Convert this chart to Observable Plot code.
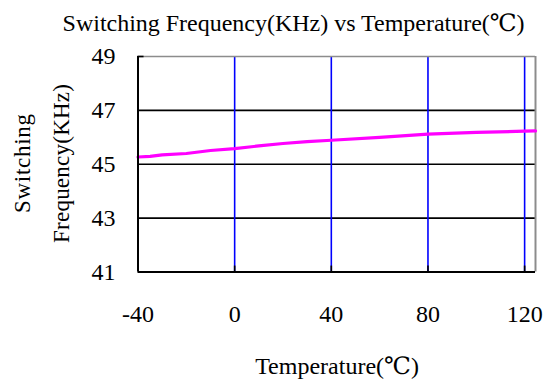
<!DOCTYPE html>
<html>
<head>
<meta charset="utf-8">
<script src="https://cdn.jsdelivr.net/npm/d3@7"></script>
<script src="https://cdn.jsdelivr.net/npm/@observablehq/plot@0.6"></script>
<style>
  html, body { margin: 0; padding: 0; background: #fff; }
</style>
</head>
<body>
<div id="chart"></div>
<script>
// ---- data ----
const temps = [-40, -35, -30, -20, -10, 0, 10, 20, 30, 40, 60, 80, 100, 120, 124.5];
const freqs = [45.27, 45.29, 45.35, 45.40, 45.51, 45.58, 45.68, 45.77, 45.84, 45.89, 46.00, 46.12, 46.18, 46.23, 46.24];
const xTicks = [-40, 0, 40, 80, 120];
const yTicks = [41, 43, 45, 47, 49];
const xGrid = [0, 40, 80, 120];
const yGrid = [43, 45, 47];
const titleText = "Switching Frequency(KHz) vs Temperature(℃)";
const xLabel = "Temperature(℃)";
const yLabelLines = ["Switching", "Frequency(KHz)"];

const xMin = -40, xMax = 124.5, yMin = 41, yMax = 49;
const data = temps.map((t, i) => ({t, f: freqs[i]}));
const serif = "'Liberation Serif', 'DejaVu Serif', serif";

const plot = Plot.plot({
  width: 552,
  height: 385,
  marginLeft: 137.5,
  marginRight: 17,
  marginTop: 56,
  marginBottom: 113.5,
  style: {fontFamily: serif, fontSize: "24px", color: "#000", background: "#fff", overflow: "visible"},
  x: {domain: [xMin, xMax]},
  y: {domain: [yMin, yMax]},
  marks: [
    Plot.ruleY(yGrid, {stroke: "#000", strokeWidth: 1.6}),
    Plot.ruleX(xGrid, {stroke: "#0000ff", strokeWidth: 1.6}),
    Plot.ruleX(xGrid, {y1: yMin, y2: yMin + 0.22, stroke: "#000", strokeWidth: 1.6}),
    Plot.ruleY([yMax], {stroke: "#8c8c8c", strokeWidth: 1.6}),
    Plot.ruleX([xMax], {stroke: "#8c8c8c", strokeWidth: 2}),
    Plot.ruleY([yMax], {x1: xMin, x2: xMin + 2.5, stroke: "#000", strokeWidth: 1.6}),
    Plot.line(data, {x: "t", y: "f", stroke: "#ff00ff", strokeWidth: 3.2, curve: "linear"}),
    Plot.ruleX([xMin], {stroke: "#000", strokeWidth: 2}),
    Plot.ruleY([yMin], {stroke: "#000", strokeWidth: 2}),
    Plot.axisX(xTicks, {tickSize: 0, tickPadding: 33, label: null, fontSize: 24, fill: "#000", tickFormat: d => String(d)}),
    Plot.axisY(yTicks, {tickSize: 0, tickPadding: 22.5, label: null, fontSize: 24, fill: "#000", tickFormat: d => String(d)})
  ]
});

document.getElementById("chart").appendChild(plot);

const svg = d3.select(plot);
svg.append("text")
  .attr("x", 293.6).attr("y", 31)
  .attr("text-anchor", "middle")
  .attr("font-family", serif).attr("font-size", 24)
  .attr("textLength", 462).attr("lengthAdjust", "spacing")
  .attr("fill", "#000")
  .text(titleText);

svg.append("text")
  .attr("x", 337).attr("y", 374)
  .attr("text-anchor", "middle")
  .attr("font-family", serif).attr("font-size", 24)
  .attr("fill", "#000")
  .text(xLabel);

const yl = svg.append("text")
  .attr("transform", "translate(0,163.5) rotate(-90)")
  .attr("text-anchor", "middle")
  .attr("font-family", serif).attr("font-size", 23)
  .attr("fill", "#000");
yl.append("tspan").attr("x", 0).attr("y", 30)
  .attr("textLength", 99).attr("lengthAdjust", "spacing").text(yLabelLines[0]);
yl.append("tspan").attr("x", 0).attr("y", 69)
  .attr("textLength", 159).attr("lengthAdjust", "spacing").text(yLabelLines[1]);
</script>
</body>
</html>
